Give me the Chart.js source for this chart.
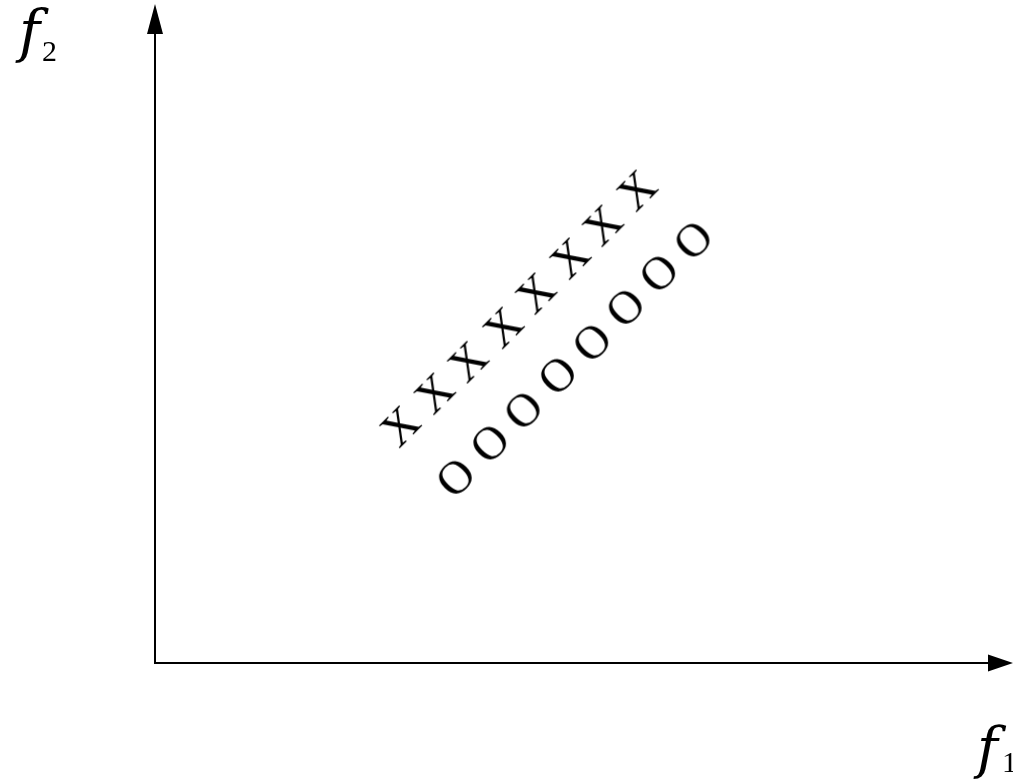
<!DOCTYPE html>
<html><head><meta charset="utf-8">
<script src="https://cdn.jsdelivr.net/npm/chart.js@4"></script>
<style>html,body{margin:0;padding:0;background:#fff;overflow:hidden}#wrap{width:1013px;height:783px;position:relative}</style>
</head><body><div id="wrap"><canvas id="c" width="1013" height="783"></canvas></div>
<script>
// Data (f1 = horizontal, f2 = vertical), arbitrary units 0..10
const classX_f1 = [2.86, 3.26, 3.65, 4.06, 4.44, 4.84, 5.22, 5.62];
const classX_f2 = [3.60, 4.10, 4.58, 5.10, 5.62, 6.15, 6.65, 7.18];
const classO_f1 = [3.50, 3.90, 4.29, 4.69, 5.09, 5.48, 5.87, 6.27];
const classO_f2 = [2.82, 3.34, 3.84, 4.37, 4.87, 5.40, 5.92, 6.42];
const markerChars = ['X', 'O'];
const axisNames = ['f', 'f'];
const axisSubs = ['1', '2'];

const SERIF = '"Liberation Serif", "Times New Roman", serif';
const ITALIC_SERIF = '"DejaVu Serif", "Liberation Serif", serif';

function glyph(ch, size) {
  const c = document.createElement('canvas');
  const s = Math.ceil(size * 1.8);
  c.width = s; c.height = s;
  const g = c.getContext('2d');
  g.translate(s / 2, s / 2);
  g.rotate(-Math.PI / 4);
  g.font = size + 'px ' + SERIF;
  g.textAlign = 'left';
  g.textBaseline = 'alphabetic';
  const m = g.measureText(ch);
  const w = m.actualBoundingBoxRight + m.actualBoundingBoxLeft;
  const dy = (m.actualBoundingBoxAscent - m.actualBoundingBoxDescent) / 2;
  g.fillStyle = '#000';
  g.fillText(ch, -w / 2 + m.actualBoundingBoxLeft, dy);
  return c;
}

const GLYPH_SIZE = 47;
const xGlyph = glyph(markerChars[0], GLYPH_SIZE);
const oGlyph = glyph(markerChars[1], GLYPH_SIZE);

const toPts = (a, b) => a.map((v, i) => ({ x: v, y: b[i] }));

// draw text so that its ink box starts at (left, top) with given ink height
function fitText(ctx, text, style, family, left, top, inkH) {
  ctx.font = style + ' 100px ' + family;
  const m0 = ctx.measureText(text);
  const h0 = m0.actualBoundingBoxAscent + m0.actualBoundingBoxDescent;
  const size = 100 * inkH / h0;
  ctx.font = style + ' ' + size.toFixed(1) + 'px ' + family;
  const m = ctx.measureText(text);
  ctx.fillText(text, left + m.actualBoundingBoxLeft, top + m.actualBoundingBoxAscent);
}

const axesPlugin = {
  id: 'arrowAxes',
  afterDraw(chart) {
    const ctx = chart.ctx;
    const xs = chart.scales.x, ys = chart.scales.y;
    const x0 = xs.getPixelForValue(0), y0 = ys.getPixelForValue(0);
    const xEnd = xs.getPixelForValue(10), yEnd = ys.getPixelForValue(10);
    ctx.save();
    ctx.strokeStyle = '#000';
    ctx.fillStyle = '#000';
    ctx.lineWidth = 2;
    ctx.beginPath();
    ctx.moveTo(x0, y0 + 1);
    ctx.lineTo(x0, yEnd + 29);
    ctx.stroke();
    ctx.beginPath();
    ctx.moveTo(x0, yEnd);
    ctx.lineTo(x0 - 8, yEnd + 30);
    ctx.lineTo(x0 + 8, yEnd + 30);
    ctx.closePath();
    ctx.fill();
    ctx.beginPath();
    ctx.moveTo(x0 - 1, y0);
    ctx.lineTo(xEnd - 24, y0);
    ctx.stroke();
    ctx.beginPath();
    ctx.moveTo(xEnd, y0);
    ctx.lineTo(xEnd - 25, y0 - 8.5);
    ctx.lineTo(xEnd - 25, y0 + 8.5);
    ctx.closePath();
    ctx.fill();
    ctx.textAlign = 'left';
    ctx.textBaseline = 'alphabetic';
    fitText(ctx, axisNames[1], 'italic', ITALIC_SERIF, 15, 7, 55);
    fitText(ctx, axisSubs[1], 'normal', SERIF, 43, 42, 20);
    fitText(ctx, axisNames[0], 'italic', ITALIC_SERIF, 973, 724, 54);
    fitText(ctx, axisSubs[0], 'normal', SERIF, 1004, 753, 20);
    ctx.restore();
  }
};

new Chart(document.getElementById('c'), {
  type: 'scatter',
  data: {
    datasets: [
      { label: markerChars[0], data: toPts(classX_f1, classX_f2), pointStyle: xGlyph, pointRadius: 5 },
      { label: markerChars[1], data: toPts(classO_f1, classO_f2), pointStyle: oGlyph, pointRadius: 5 }
    ]
  },
  options: {
    responsive: false,
    animation: false,
    devicePixelRatio: 1,
    layout: { autoPadding: false, padding: { left: 155, top: 4, right: 0, bottom: 120 } },
    plugins: { legend: { display: false }, tooltip: { enabled: false } },
    scales: {
      x: { type: 'linear', min: 0, max: 10, display: false },
      y: { type: 'linear', min: 0, max: 10, display: false }
    },
    clip: false
  },
  plugins: [axesPlugin]
});
</script>
</body></html>
